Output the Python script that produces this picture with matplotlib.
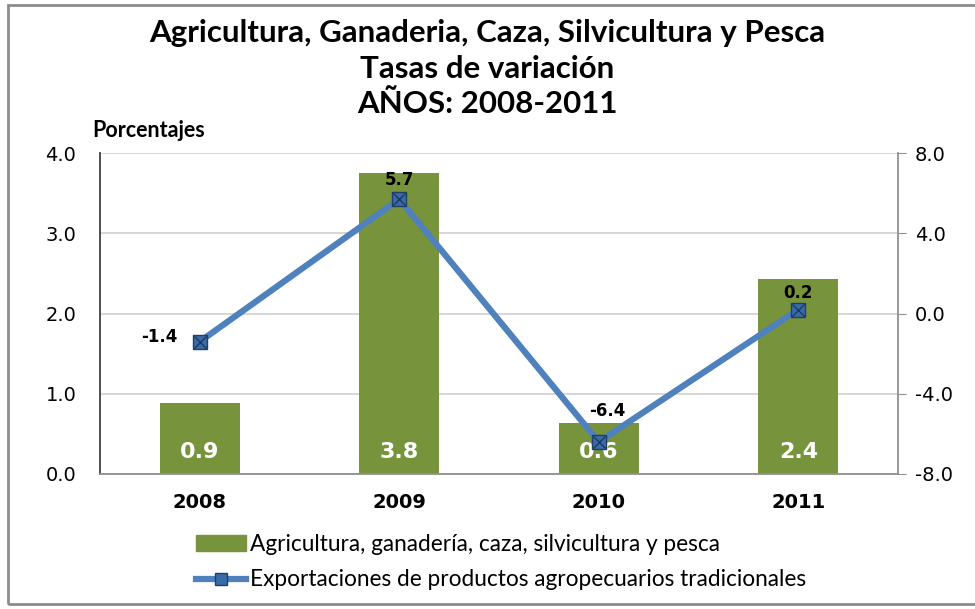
import matplotlib.pyplot as plt
import numpy as np
from matplotlib.patches import Rectangle
from matplotlib.lines import Line2D

plt.rcParams['font.family'] = ['DejaVu Sans']
title_font = ['Lato', 'DejaVu Sans']

years = ['2008', '2009', '2010', '2011']
agro = [0.88, 3.75, 0.63, 2.43]
agro_labels = ['0.9', '3.8', '0.6', '2.4']
export = [-1.4, 5.7, -6.4, 0.2]
export_labels = ['-1.4', '5.7', '-6.4', '0.2']

bar_color = '#77933C'
line_color = '#4F81BD'

fig = plt.figure(figsize=(9.75, 6.09), dpi=100)
ax = fig.add_axes([0.1026, 0.2217, 0.8185, 0.527])
ax2 = ax.twinx()

x = np.arange(len(years))
ax.bar(x, agro, 0.4, color=bar_color, zorder=2)
for xi, lab in zip(x, agro_labels):
    ax.text(xi, 0.27, lab, ha='center', va='center', color='white',
            fontsize=16, fontweight='bold', zorder=4)

ax.set_xlim(-0.5, 3.5)
ax.set_ylim(0, 4)
ax.set_yticks(np.arange(0, 4.01, 1.0))
ax.set_yticklabels(['%.1f' % v for v in np.arange(0, 4.01, 1.0)], fontsize=14)
ax.set_xticks(x)
ax.set_xticklabels(years, fontsize=14, fontweight='bold')
ax.tick_params(axis='x', length=0, pad=14)
ax.tick_params(axis='y', length=0, pad=17)
ax.grid(axis='y', color='#D0D0D0', linewidth=1.2, zorder=0)
ax.set_axisbelow(True)
for s in ['top', 'right']:
    ax.spines[s].set_visible(False)
ax.spines['left'].set_color('#404040')
ax.spines['left'].set_linewidth(1.3)
ax.spines['bottom'].set_color('#909090')
ax.spines['bottom'].set_linewidth(1.3)

ax2.plot(x, export, color=line_color, linewidth=4.5, zorder=3)
ax2.plot(x, export, linestyle='none', marker='s', markersize=10,
         markerfacecolor='#3A6BA8', markeredgecolor='#1F3F66', zorder=4)
ax2.plot(x, export, linestyle='none', marker='x', markersize=8,
         markeredgecolor='#1B3A5E', markeredgewidth=1.0, zorder=5)
ax2.set_ylim(-8, 8)
ax2.set_yticks(np.arange(-8, 8.01, 4))
ax2.set_yticklabels(['%.1f' % v for v in np.arange(-8, 8.01, 4)], fontsize=14)
ax2.tick_params(axis='y', length=6, color='#909090', pad=6)
for s in ['top', 'left', 'bottom']:
    ax2.spines[s].set_visible(False)
ax2.spines['right'].set_color('#909090')
ax2.spines['right'].set_linewidth(1.3)

offsets = [(-29, 3), (0, 14), (6, 22), (0, 12)]
for xi, yi, lab, off in zip(x, export, export_labels, offsets):
    ax2.annotate(lab, (xi, yi), xytext=off, textcoords='offset points',
                 ha='center', va='center', fontsize=12, fontweight='bold', zorder=6)

for yy, txt in zip([0.946, 0.886, 0.829],
                   ['Agricultura, Ganaderia, Caza, Silvicultura y Pesca',
                    'Tasas de variación', 'AÑOS: 2008-2011']):
    fig.text(0.5, yy, txt, ha='center', va='center', fontsize=22.5,
             fontweight='bold', family=title_font)
fig.text(0.095, 0.785, 'Porcentajes', ha='left', va='center',
         fontsize=15.5, fontweight='bold', family=title_font)

handles = [Rectangle((0, 0), 1, 1, color=bar_color),
           Line2D([0], [0], color=line_color, linewidth=4.5, marker='s',
                  markersize=9, markerfacecolor='#3A6BA8', markeredgecolor='#1F3F66')]
fig.legend(handles, ['Agricultura, ganadería, caza, silvicultura y pesca',
                     'Exportaciones de productos agropecuarios tradicionales'],
           loc='center', bbox_to_anchor=(0.514, 0.077), frameon=False,
           prop={'family': title_font, 'size': 16.3},
           handlelength=2.2, handletextpad=0.2, labelspacing=0.65)

fig.patches.append(Rectangle((0.008, 0.008), 1.2, 0.984, transform=fig.transFigure,
                             fill=False, edgecolor='#8C8C8C', linewidth=2))

fig.savefig('out.png', dpi=100)
